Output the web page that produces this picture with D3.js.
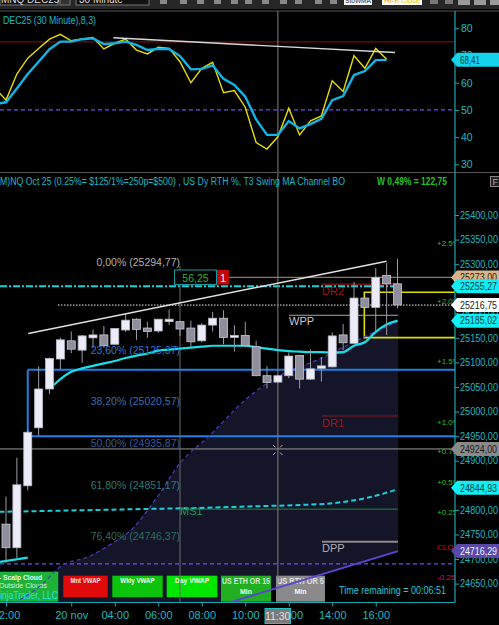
<!DOCTYPE html>
<html><head><meta charset="utf-8">
<script src="https://cdn.jsdelivr.net/npm/d3@7"></script>
<style>
body{margin:0;background:#000;overflow:hidden}
svg{display:block}
text{font-family:"Liberation Sans",Arial,sans-serif}
</style></head><body>
<svg id="c" width="499" height="625"></svg>
<script>
// ---------------- DATA ----------------
const opens  = [24771,24723,24849,24967,25046,25107,25144,25125,25150,25156,25137,25166,25188,25170,25164,25183,25183,25170,25144,25176,25190,25151,25155,25132,25073,25060,25073,25114,25066,25088,25091,25156,25139,25231,25212,25277,25260];
const highs  = [24827,24906,24963,25092,25110,25150,25163,25156,25167,25174,25170,25199,25190,25183,25188,25208,25184,25185,25180,25203,25206,25176,25183,25144,25093,25075,25120,25115,25126,25111,25161,25178,25264,25232,25292,25302,25311];
const lows   = [24692,24702,24840,24951,25036,25086,25119,25099,25130,25130,25136,25162,25146,25150,25160,25176,25154,25132,25141,25163,25137,25122,25131,25072,25047,25058,25068,25047,25064,25061,25090,25125,25138,25210,25160,25156,25210];
const closes = [24723,24851,24958,25046,25108,25146,25127,25154,25156,25134,25169,25186,25167,25163,25188,25188,25168,25142,25176,25190,25151,25155,25134,25073,25059,25073,25113,25066,25087,25093,25154,25140,25231,25212,25273,25260,25217];

// cyan channel MA (bar index, price)
const maIdx = [4.4,5,6,7,8,9,10,11,12,13,14,15,16,17,18,19,20,21,22,23,24,25,26,27,28,29,30,31,32,33,34,35,36];
const maVal = [25054,25066,25081,25088,25093,25098,25103,25109,25114,25118,25124,25126,25128,25130,25132,25134,25134,25134,25134,25131,25128,25125,25123,25122,25121,25121,25120,25121,25134,25141,25162,25177,25185];
// earlier MA segment (lower left)
const ma0Idx = [-0.6,2];
const ma0Val = [24694,24703];
// cyan dashed MS line
const msIdx = [-0.6,4.05,8.64,13.2,17.8,22.4,27,29.8,31.6,33.1,34.7,36];
const msVal = [24796,24798,24800,24802,24804,24807,24810,24813,24818,24824,24833,24842];
// purple dashed curve (band) and solid purple line
const bandIdx = [1.29,3.13,4.97,7.72,9.56,11.68,13.9,16,18.57,22.44,25.47,28.6,31.63,36.05];
const bandVal = [24617,24645,24684,24706,24729,24763,24826,24895,24948,25032,25077,25105,25138,25184];
const vwapIdx = [20.6,36.05];
const vwapVal = [24612,24716];
// white trendline
const trendIdx = [2.05,35];
const trendVal = [25159,25306];

// stochastics (index -1 .. 35)
const stochK = [58,53.6,63.2,69,72.6,76,77.8,75.4,76.1,76.6,72.4,74.5,76,72,70.6,73,72.6,67.7,60,65.3,67.5,56.3,57.1,51,38,35.6,40.1,50.6,40.8,46,47.8,60.7,56.8,69.9,65.3,72.6,68.6];
const stochD = [52.2,52.8,57.9,63.2,67.7,72.3,75.1,75.1,76,76.3,74.2,74.5,75.1,73.9,72,72.4,72.4,69.8,64.9,65.1,66.4,61.4,59.2,54.9,46.5,40.8,40.8,45.9,43.2,44.8,46.7,53.6,55.1,62.8,64.3,68.3,68.4];
const stochTrendIdx = [9.87,35.77];
const stochTrendVal = [76.5,71.1];

// axis ticks
const priceTicks = [25400,25350,25300,25250,25200,25150,25100,25050,25000,24950,24900,24850,24800,24750,24700,24650];
const stochTicks = [80,70,60,50,40,30];
const timeTickIdx = [0,6,10,14,18,22,26,30,34];
const timeTickLab = ["22:00","20 nov","04:00","06:00","08:00","10:00","12:00","14:00","16:00"];

// fib labels
const fibNames = ["0,00% (25294,77)","23,60% (25125,37)","38,20% (25020,57)","50,00% (24935,87)","61,80% (24851,17)","76,40% (24746,37)"];
const fibVals  = [25294.77,25125.37,25020.57,24935.87,24851.17,24746.37];
const fibColors= ["#b0b0b0","#2f72d6","#3a6db5","#335c98","#2b7a7a","#2c6c5c"];

// percent labels on right
const pctLabels = ["+2.5%","+2.0%","+1.5%","+1.0%","+0.75%","+0.5%","+0.25%","CLOSE","-0.25%"];
const pctVals   = [25343,25226,25102,24979,24919,24857,24795,24724,24664];

// ---------------- SCALES ----------------
const svg = d3.select('#c');
const R = 455;
const x = d3.scaleLinear().domain([0,36]).range([6,397.5]);
const y = d3.scaleLinear().domain([24650,25400]).range([583.6,215]);
const ys = d3.scaleLinear().domain([30,80]).range([164.3,28.3]);
const bw = 8;

svg.append('rect').attr('width',499).attr('height',625).attr('fill','#000');
const defs = svg.append('defs');
defs.append('clipPath').attr('id','cp').append('rect').attr('x',0).attr('y',173).attr('width',R).attr('height',429);
defs.append('clipPath').attr('id','cs').append('rect').attr('x',0).attr('y',11).attr('width',R).attr('height',161);

// ---------------- TOOLBAR ----------------
const tb = svg.append('g');
tb.append('rect').attr('x',0).attr('y',0).attr('width',499).attr('height',9).attr('fill','#262626');
tb.append('rect').attr('x',0).attr('y',-6).attr('width',58).attr('height',11).attr('fill','#111').attr('stroke','#777');
tb.append('text').attr('x',1).attr('y',3).attr('fill','#ddd').attr('font-size',10).text('MNQ DEC25');
tb.append('rect').attr('x',60).attr('y',-6).attr('width',10).attr('height',11).attr('fill','#333').attr('stroke','#777');
tb.append('rect').attr('x',76).attr('y',-6).attr('width',73).attr('height',11).attr('fill','#111').attr('stroke','#777');
tb.append('text').attr('x',79).attr('y',3).attr('fill','#ddd').attr('font-size',10).text('30 Minute');
[160,180,197,214,231,245,262,280,295,315,330].forEach(v=>{
  tb.append('rect').attr('x',v).attr('y',0).attr('width',7).attr('height',4).attr('fill','#888');
});
tb.append('rect').attr('x',344).attr('y',-4).attr('width',28).attr('height',9).attr('fill','#f4f4f4');
tb.append('text').attr('x',345).attr('y',3).attr('fill','#333').attr('font-size',8).attr('textLength',26).attr('lengthAdjust','spacingAndGlyphs').text('StoWMA');
tb.append('rect').attr('x',382).attr('y',-4).attr('width',40).attr('height',9).attr('fill','#fff');
tb.append('text').attr('x',384).attr('y',3).attr('fill','#f0a040').attr('font-size',8).text('Hi-K');
tb.append('text').attr('x',401).attr('y',3).attr('fill','#e8c020').attr('font-size',8).attr('textLength',19).attr('lengthAdjust','spacingAndGlyphs').text('Close');
[430,445].forEach(v=>tb.append('rect').attr('x',v).attr('y',0).attr('width',8).attr('height',4).attr('fill','#777'));
[458,474,490].forEach(v=>tb.append('rect').attr('x',v).attr('y',-3).attr('width',12).attr('height',8).attr('fill','#9a9a9a'));

// panel borders
svg.append('line').attr('x1',0).attr('x2',499).attr('y1',11).attr('y2',11).attr('stroke','#555');
svg.append('line').attr('x1',0).attr('x2',499).attr('y1',172.5).attr('y2',172.5).attr('stroke','#555');

// ---------------- STOCHASTICS ----------------
const gs = svg.append('g').attr('clip-path','url(#cs)');
gs.append('line').attr('x1',0).attr('x2',R).attr('y1',ys(75)).attr('y2',ys(75)).attr('stroke','#8a1010').attr('stroke-width',1);
gs.append('line').attr('x1',0).attr('x2',R).attr('y1',ys(50)).attr('y2',ys(50)).attr('stroke','#6a50f0').attr('stroke-width',1.2).attr('stroke-dasharray','4,3');
gs.append('line').attr('x1',x(25)).attr('x2',x(25)).attr('y1',11).attr('y2',173).attr('stroke','#808080');
const sline = d3.line().x((d,i)=>x(i-1)).y(d=>ys(d));
gs.append('path').attr('d',sline(stochK)).attr('fill','none').attr('stroke','#e6dc00').attr('stroke-width',1.4);
gs.append('path').attr('d',sline(stochD)).attr('fill','none').attr('stroke','#12b4e6').attr('stroke-width',2.4);
gs.append('line').attr('x1',x(stochTrendIdx[0])).attr('x2',x(stochTrendIdx[1])).attr('y1',ys(stochTrendVal[0])).attr('y2',ys(stochTrendVal[1])).attr('stroke','#d8d8d8').attr('stroke-width',1.4);
svg.append('text').attr('x',3).attr('y',24).attr('fill','#18b8c4').attr('font-size',10.5).attr('textLength',93).attr('lengthAdjust','spacingAndGlyphs').text('DEC25 (30 Minute),8,3)');

// ---------------- PRICE PANEL ----------------
const gp = svg.append('g').attr('clip-path','url(#cp)');
const regionPts = bandIdx.map((k,i)=>[k,bandVal[i]]).concat([[36.05,vwapVal[1]],[vwapIdx[0],vwapVal[0]],[vwapIdx[0],24560],[bandIdx[0],24560]]);
gp.append('path').attr('d',d3.line().x(d=>x(d[0])).y(d=>y(d[1]))(regionPts)+'Z').attr('fill','#15152a');

// buttons
const btn = svg.append('g');
function button(x0,y0,w,h,fill,t,col){
  btn.append('rect').attr('x',x0).attr('y',y0).attr('width',w).attr('height',h).attr('fill',fill);
  btn.append('text').attr('x',x0+w/2).attr('y',y0+7.5).attr('text-anchor','middle').attr('fill',col).attr('font-size',7).attr('font-weight','bold').attr('textLength',w*0.68).attr('lengthAdjust','spacingAndGlyphs').text(t);
}
btn.append('rect').attr('x',0).attr('y',571.7).attr('width',58.3).attr('height',30).attr('fill','#1fb23a');
btn.append('text').attr('x',-1).attr('y',579.5).attr('fill','#e8ffe8').attr('font-size',8).attr('font-weight','bold').attr('textLength',43).attr('lengthAdjust','spacingAndGlyphs').text('- Scalp Cloud');
btn.append('text').attr('x',-1).attr('y',588).attr('fill','#d8f0d8').attr('font-size',8).attr('textLength',48).attr('lengthAdjust','spacingAndGlyphs').text('Outside Clouds');
btn.append('text').attr('x',-6).attr('y',598.5).attr('fill','#20e4e4').attr('font-size',10.5).attr('textLength',64).attr('lengthAdjust','spacingAndGlyphs').text('NinjaTrader, LLC');
button(63.3,575.7,44.4,21.5,'#e00a0a','Mnt VWAP','#ffe0e0');
button(112.3,575.7,50.4,21.5,'#0cc40c','Wkly VWAP','#f0fff0');
button(166.7,575.7,50.6,21.5,'#00e600','Day VWAP','#f0fff0');
btn.append('rect').attr('x',221).attr('y',575.7).attr('width',50).attr('height',26).attr('fill','#22b022');
btn.append('text').attr('x',222).attr('y',584).attr('fill','#d0ecd0').attr('font-size',8.5).attr('font-weight','bold').attr('textLength',48).attr('lengthAdjust','spacingAndGlyphs').text('US ETH OR 15');
btn.append('text').attr('x',246).attr('y',593.5).attr('text-anchor','middle').attr('fill','#e8ffe8').attr('font-size',7).attr('font-weight','bold').text('Min');
btn.append('rect').attr('x',276).attr('y',575.7).attr('width',49).attr('height',26).attr('fill','#8a8a8a');
btn.append('text').attr('x',277).attr('y',584).attr('fill','#e0e0e0').attr('font-size',8.5).attr('font-weight','bold').attr('textLength',47).attr('lengthAdjust','spacingAndGlyphs').text('US RTH OR 5');
btn.append('text').attr('x',300.5).attr('y',593.5).attr('text-anchor','middle').attr('fill','#f8f8f8').attr('font-size',7).attr('font-weight','bold').text('Min');
svg.append('text').attr('x',339).attr('y',594).attr('fill','#22c8d8').attr('font-size',10.5).attr('textLength',107).attr('lengthAdjust','spacingAndGlyphs').text('Time remaining = 00:06:51');

const gl = svg.append('g').attr('clip-path','url(#cp)');
function hline(v,x1,x2,col,w,dash){
  const l = gl.append('line').attr('x1',x1).attr('x2',x2).attr('y1',y(v)).attr('y2',y(v)).attr('stroke',col).attr('stroke-width',w);
  if(dash) l.attr('stroke-dasharray',dash);
  return l;
}
hline(24690,0,R,'#6a50f0',1.2,'4,3');
hline(24924,0,R,'#9a9a9a',1);
hline(25085,x(2.0),R,'#1e7fe6',2);
hline(24950,x(2.0),R,'#1e7fe6',2);
gl.append('line').attr('x1',x(2.0)).attr('x2',x(2.0)).attr('y1',y(25085)).attr('y2',y(24950)).attr('stroke','#1e7fe6').attr('stroke-width',2);
hline(25216.75,58,R,'#e8e8e8',1,'1.5,1.5');
hline(25273,229,R,'#8a7a64',1.2);
hline(25255.27,0,398,'#18d0d8',2,'7,2,2,2');
gl.append('path').attr('d',`M${R},${y(25242.7)}H${x(32.95)}V${y(25150.4)}H${R}`).attr('fill','none').attr('stroke','#e0e000').attr('stroke-width',1.6);
hline(25259.5,322,398,'#8a1616',1.2);
hline(24991,322,398,'#8a1616',1.2);
hline(25196,289,398,'#a8a8a8',1.2);
hline(24735,322,398,'#8a8a8a',2);
hline(24801.5,180,398,'#1d8a3c',1);
gl.append('line').attr('x1',180).attr('x2',180).attr('y1',266).attr('y2',602).attr('stroke','#6a6a6a');
gl.append('line').attr('x1',x(25)).attr('x2',x(25)).attr('y1',173).attr('y2',602).attr('stroke','#808080');
[[273,445,275.5,447.5],[282.5,445,280,447.5],[273,455,275.5,452.5],[282.5,455,280,452.5]].forEach(s=>
  gl.append('line').attr('x1',s[0]).attr('y1',s[1]).attr('x2',s[2]).attr('y2',s[3]).attr('stroke','#aaa'));

const curve = d3.line().x(d=>x(d[0])).y(d=>y(d[1])).curve(d3.curveMonotoneX);
gl.append('path').attr('d',curve(bandIdx.map((k,i)=>[k,bandVal[i]]))).attr('fill','none').attr('stroke','#4b3cc0').attr('stroke-width',1.2).attr('stroke-dasharray','4,3');
gl.append('path').attr('d',d3.line().x(d=>x(d[0])).y(d=>y(d[1]))([[vwapIdx[0]-2,vwapVal[0]-(vwapVal[1]-vwapVal[0])/(vwapIdx[1]-vwapIdx[0])*2],[vwapIdx[1],vwapVal[1]]])).attr('fill','none').attr('stroke','#5a46d0').attr('stroke-width',2);
gl.append('path').attr('d',curve(maIdx.map((k,i)=>[k,maVal[i]]))).attr('fill','none').attr('stroke','#18e0e6').attr('stroke-width',2.2);
gl.append('path').attr('d',curve(ma0Idx.map((k,i)=>[k,ma0Val[i]]))).attr('fill','none').attr('stroke','#18e0e6').attr('stroke-width',2.2);
gl.append('path').attr('d',curve(msIdx.map((k,i)=>[k,msVal[i]]))).attr('fill','none').attr('stroke','#18d0d8').attr('stroke-width',2).attr('stroke-dasharray','5,3');

// candles
const cg = gl.append('g');
opens.forEach((o,i)=>{
  const c = closes[i], up = c>=o;
  cg.append('line').attr('x1',x(i)).attr('x2',x(i)).attr('y1',y(highs[i])).attr('y2',y(lows[i])).attr('stroke','#9a9aa4').attr('stroke-width',1);
  const top = y(Math.max(o,c)), bot = y(Math.min(o,c));
  cg.append('rect').attr('x',x(i)-bw/2).attr('y',top).attr('width',bw).attr('height',Math.max(1.5,bot-top))
    .attr('fill',up?'#ececf8':'#8e8e9c').attr('stroke',up?'#b8b8c8':'#c8c8d4').attr('stroke-width',0.8);
});
gl.append('line').attr('x1',x(trendIdx[0])).attr('x2',x(trendIdx[1])).attr('y1',y(trendVal[0])).attr('y2',y(trendVal[1])).attr('stroke','#e0e0e0').attr('stroke-width',1.4);

fibNames.forEach((t,i)=>{
  gl.append('text').attr('x',180).attr('y',y(fibVals[i])+(i==0?-1:4)).attr('text-anchor','end').attr('fill',fibColors[i]).attr('font-size',10.5).text(t);
});
const lab=(t,x0,yy,col)=>gl.append('text').attr('x',x0).attr('y',yy).attr('fill',col).attr('font-size',11).text(t);
lab('DR2',322,y(25259.5)+11,'#a01414');
lab('DR1',322,y(24991)+11,'#a01414');
lab('WPP',289,y(25196)+10,'#c8c8c8');
lab('DPP',322,y(24735)+10,'#b0b0b0');
lab('MS1',180,515,'#1f9a4a');

gl.append('rect').attr('x',174.5).attr('y',270).attr('width',42).attr('height',14.5).attr('fill','#000').attr('stroke','#1a9a9a');
gl.append('text').attr('x',195.5).attr('y',281.5).attr('text-anchor','middle').attr('fill','#30b030').attr('font-size',10.5).text('56,25');
gl.append('rect').attr('x',217).attr('y',270).attr('width',12).attr('height',14.5).attr('fill','#c00808');
gl.append('text').attr('x',223).attr('y',281.5).attr('text-anchor','middle').attr('fill','#fff').attr('font-size',10).text('1');

pctLabels.forEach((t,i)=>{
  gl.append('text').attr('x',437).attr('y',y(pctVals[i])+3).attr('fill',t==='CLOSE'?'#d01010':(t[0]==='-'?'#d0106a':'#22c022')).attr('font-size',8).text(t);
});

svg.append('text').attr('x',0).attr('y',185).attr('fill','#18b8c4').attr('font-size',10).attr('textLength',345).attr('lengthAdjust','spacingAndGlyphs').text('M)NQ Oct 25 (0.25%= $125/1%=250p=$500) , US Dy RTH %, T3 Swing MA Channel BO');
svg.append('text').attr('x',377).attr('y',185).attr('fill','#22c022').attr('font-size',10).attr('font-weight','bold').attr('textLength',70).attr('lengthAdjust','spacingAndGlyphs').text('W 0,49% = 122,75');
svg.append('rect').attr('x',490.5).attr('y',176.5).attr('width',10).attr('height',10).attr('fill','#222').attr('stroke','#888');
svg.append('text').attr('x',492.5).attr('y',185).attr('fill','#aaa').attr('font-size',9).text('F');

// ---------------- AXES ----------------
const axc = '#1aa8b0', axt = '#1fb8c0';
svg.append('line').attr('x1',R).attr('x2',R).attr('y1',11).attr('y2',602.5).attr('stroke',axc).attr('stroke-width',1.2);
svg.append('line').attr('x1',0).attr('x2',R).attr('y1',602.5).attr('y2',602.5).attr('stroke',axc).attr('stroke-width',1.2);
const pAxis = svg.append('g').attr('transform',`translate(${R},0)`).call(d3.axisRight(y).tickValues(priceTicks).tickSize(4).tickFormat(d=>d3.format('.2f')(d).replace('.',',')));
pAxis.select('.domain').remove();
pAxis.selectAll('line').attr('stroke',axc);
pAxis.selectAll('text').attr('fill',axt).attr('font-size',10).attr('font-family','Liberation Sans, Arial').attr('x',5).attr('textLength',38).attr('lengthAdjust','spacingAndGlyphs');
const sAxis = svg.append('g').attr('transform',`translate(${R},0)`).call(d3.axisRight(ys).tickValues(stochTicks).tickSize(4));
sAxis.select('.domain').remove();
sAxis.selectAll('line').attr('stroke',axc);
sAxis.selectAll('text').attr('fill',axt).attr('font-size',10.5).attr('font-family','Liberation Sans, Arial').attr('x',6);
const tAxis = svg.append('g').attr('transform','translate(0,602.5)').call(d3.axisBottom(x).tickValues(timeTickIdx).tickSize(4).tickFormat((d,i)=>timeTickLab[i]));
tAxis.select('.domain').remove();
tAxis.selectAll('line').attr('stroke',axc);
tAxis.selectAll('text').attr('fill',axt).attr('font-size',11).attr('font-family','Liberation Sans, Arial').attr('dy','0.9em');

svg.append('rect').attr('x',265).attr('y',608.5).attr('width',25.5).attr('height',15).attr('fill','#7a7a7a').attr('stroke','#20c0c8');
svg.append('text').attr('x',277.7).attr('y',620).attr('text-anchor','middle').attr('fill','#e0e0e0').attr('font-size',10.5).text('11:30');

function tag(yy,t,fill,col){
  svg.append('path').attr('d',`M451,${yy}L457,${yy-7}H499V${yy+7}H457Z`).attr('fill',fill);
  svg.append('text').attr('x',460).attr('y',yy+3.8).attr('fill',col).attr('font-size',10).attr('textLength',t.length>5?37:20).attr('lengthAdjust','spacingAndGlyphs').text(t);
}
tag(ys(68.41),'68,41','#14d4ec','#0a3a40');
tag(y(25273),'25273,00','#d8b48c','#2a2010');
tag(y(25255.27),'25255,27','#10f0f4','#0a3a40');
tag(y(25216.75),'25216,75','#ffffff','#222');
tag(y(25185.02),'25185,02','#10f0f4','#0a3a40');
tag(y(24924),'24924,00','#8a8a8a','#1a1a1a');
tag(y(24844.93),'24844,93','#10f0f4','#0a3a40');
tag(y(24716.29),'24716,29','#5848a8','#f0f0ff');
</script></body></html>
